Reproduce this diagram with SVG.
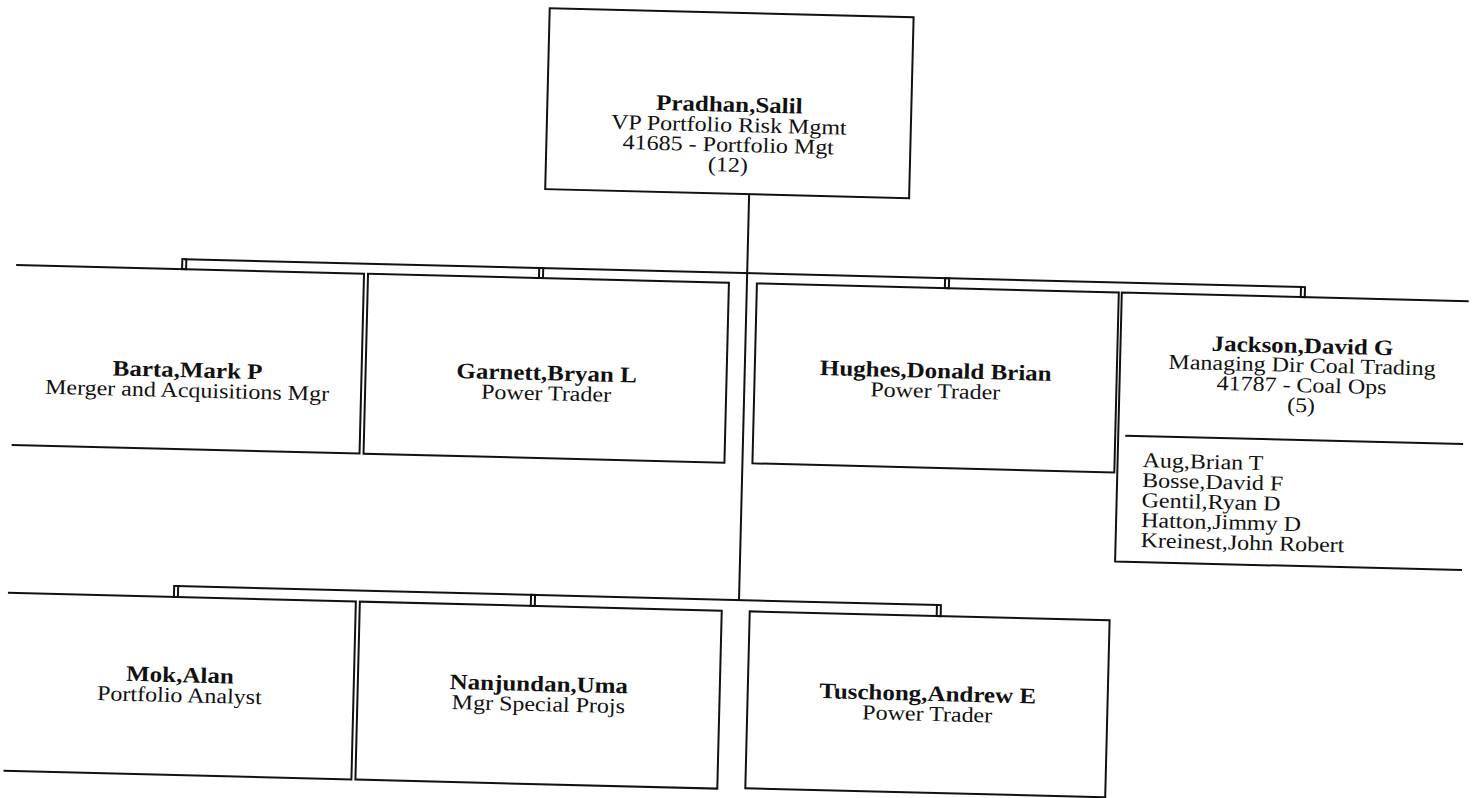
<svg xmlns="http://www.w3.org/2000/svg" width="1476" height="798" viewBox="0 0 1476 798">
<style>
.ln{fill:none;stroke:#111;stroke-width:2}
.nm{font-family:"Liberation Serif","Times New Roman",serif;font-size:25px;font-weight:bold;fill:#111;text-anchor:middle}
.tt{font-family:"Liberation Serif","Times New Roman",serif;font-size:24px;fill:#111;text-anchor:middle}
.ls{font-family:"Liberation Serif","Times New Roman",serif;font-size:24px;fill:#111;text-anchor:start}
</style>
<rect width="1476" height="798" fill="#fff"/>
<g transform="rotate(1.43 738 400)">
<g id="connectors" class="ln">
<path d="M744 194V600"/>
<path d="M181 273H1300"/>
<rect x="179" y="273" width="4" height="10"/>
<rect x="536" y="273" width="4" height="10"/>
<rect x="942" y="273" width="4" height="10"/>
<rect x="1298" y="273" width="4" height="10"/>
<path d="M181 600H944"/>
<rect x="179" y="600" width="4" height="11"/>
<rect x="536" y="600" width="4" height="11"/>
<rect x="942" y="600" width="4" height="11"/>
</g>
<g id="pradhan">
<rect class="ln" x="540" y="13" width="364" height="181"/>
<text class="nm" transform="translate(722 112) scale(1 .88)">Pradhan,Salil</text>
<text class="tt" transform="translate(722 132) scale(1 .88)">VP Portfolio Risk Mgmt</text>
<text class="tt" transform="translate(722 152) scale(1 .88)">41685 - Portfolio Mgt</text>
<text class="tt" transform="translate(722 172) scale(1 .88)">(12)</text>
</g>
<g id="barta">
<path class="ln" d="M13 283H361V463H13"/>
<text class="nm" transform="translate(187 391) scale(1 .88)">Barta,Mark P</text>
<text class="tt" transform="translate(187 411) scale(1 .88)">Merger and Acquisitions Mgr</text>
</g>
<g id="garnett">
<rect class="ln" x="365" y="283" width="361" height="180"/>
<text class="nm" transform="translate(546 385) scale(1 .88)">Garnett,Bryan L</text>
<text class="tt" transform="translate(546 405) scale(1 .88)">Power Trader</text>
</g>
<g id="hughes">
<rect class="ln" x="754" y="283" width="362" height="180"/>
<text class="nm" transform="translate(935 373) scale(1 .88)">Hughes,Donald Brian</text>
<text class="tt" transform="translate(935 393) scale(1 .88)">Power Trader</text>
</g>
<g id="jackson">
<path class="ln" d="M1466 283H1119V552H1466"/>
<path class="ln" d="M1126 426H1464"/>
<text class="nm" transform="translate(1301 339) scale(1 .88)">Jackson,David G</text>
<text class="tt" transform="translate(1301 358) scale(1 .88)">Managing Dir Coal Trading</text>
<text class="tt" transform="translate(1301 378) scale(1 .88)">41787 - Coal Ops</text>
<text class="tt" transform="translate(1301 398) scale(1 .88)">(5)</text>
<text class="ls" transform="translate(1144 457) scale(1 .88)">Aug,Brian T</text>
<text class="ls" transform="translate(1144 477) scale(1 .88)">Bosse,David F</text>
<text class="ls" transform="translate(1144 497) scale(1 .88)">Gentil,Ryan D</text>
<text class="ls" transform="translate(1144 517) scale(1 .88)">Hatton,Jimmy D</text>
<text class="ls" transform="translate(1144 537) scale(1 .88)">Kreinest,John Robert</text>
</g>
<g id="mok">
<path class="ln" d="M13 611H361V789H13"/>
<text class="nm" transform="translate(187 696) scale(1 .88)">Mok,Alan</text>
<text class="tt" transform="translate(187 716) scale(1 .88)">Portfolio Analyst</text>
</g>
<g id="nanjundan">
<rect class="ln" x="365" y="611" width="362" height="178"/>
<text class="nm" transform="translate(546 696) scale(1 .88)">Nanjundan,Uma</text>
<text class="tt" transform="translate(546 716) scale(1 .88)">Mgr Special Projs</text>
</g>
<g id="tuschong">
<rect class="ln" x="755" y="611" width="360" height="177"/>
<text class="nm" transform="translate(935 696) scale(1 .88)">Tuschong,Andrew E</text>
<text class="tt" transform="translate(935 716) scale(1 .88)">Power Trader</text>
</g>
</g>
</svg>
